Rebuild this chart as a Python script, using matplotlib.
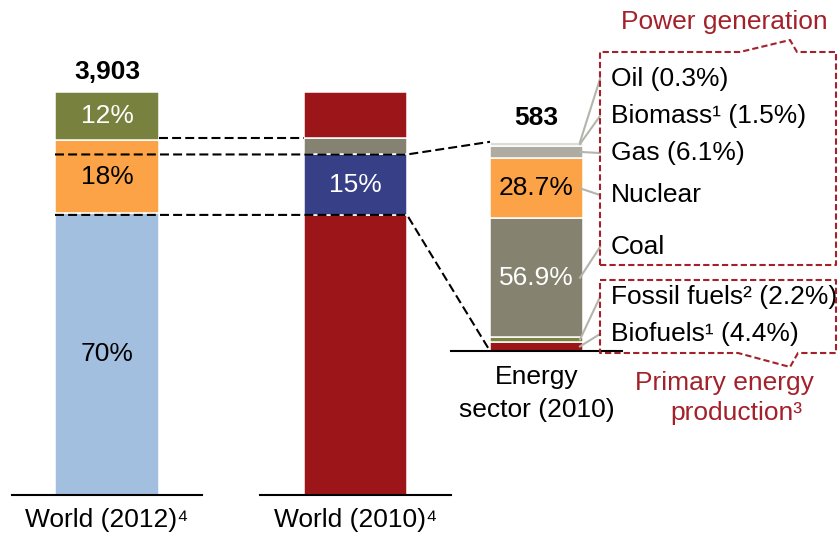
import matplotlib.pyplot as plt

plt.rcParams['font.family'] = ['Liberation Sans', 'DejaVu Sans']

# stacked shares, bottom to top (%)
world2012_vals = [70, 18, 12]
world2012_labels = ['70%', '18%', '12%']
world2012_cols = ['#a3bfe0', '#fba346', '#79813f']
world2012_txt = ['black', 'black', 'white']

world2010_vals = [69.5, 15, 4, 11.5]
world2010_cols = ['#9c1519', '#373f86', '#868272', '#9c1519']

energy_vals = [4.4, 2.2, 56.9, 28.7, 6.1, 1.5, 0.3]
energy_cols = ['#9c1519', '#7b8340', '#858270', '#fba346', '#aeaca2', '#dcdbd4', '#c8c6bc']
energy_inbar = {2: ('56.9%', 'white'), 3: ('28.7%', 'black')}
energy_names = ['Biofuels\u00b9 (4.4%)', 'Fossil fuels\u00b2 (2.2%)', 'Coal', 'Nuclear',
                'Gas (6.1%)', 'Biomass\u00b9 (1.5%)', 'Oil (0.3%)']
name_y = [334, 297, 247, 195, 153, 116, 79]

total_2012 = '3,903'
total_energy = '583'

fig = plt.figure(figsize=(8.38, 5.38), dpi=100)
ax = fig.add_axes([0, 0, 1, 1])
ax.set_xlim(0, 838)
ax.set_ylim(538, 0)
ax.axis('off')

FS = 19
base_w = 495
sc_w = 4.03
base_e = 351
sc_e = 2.09


def stack(xc, width, vals, cols, base, sc):
    cum = 0
    tops = []
    for v, c in zip(vals, cols):
        h = v * sc
        ax.bar(xc, h, width=width, bottom=base - cum * sc - h, color=c,
               edgecolor='white', linewidth=1.1, zorder=2)
        tops.append((base - cum * sc, base - (cum + v) * sc))
        cum += v
    return tops


t1 = stack(107, 104, world2012_vals, world2012_cols, base_w, sc_w)
t2 = stack(355.5, 103, world2010_vals, world2010_cols, base_w, sc_w)
t3 = stack(536.5, 93, energy_vals, energy_cols, base_e, sc_e)

for (lo, hi), lab, c in zip(t1, world2012_labels, world2012_txt):
    ax.text(107, (lo + hi) / 2, lab, ha='center', va='center', fontsize=FS, color=c, zorder=5)
ax.text(355.5, (t2[1][0] + t2[1][1]) / 2, '15%', ha='center', va='center',
        fontsize=FS, color='white', zorder=5)
for i, (lab, c) in energy_inbar.items():
    lo, hi = t3[i]
    ax.text(536.5, (lo + hi) / 2, lab, ha='center', va='center', fontsize=FS, color=c, zorder=5)

ax.text(107, 72, total_2012, ha='center', va='center', fontsize=FS, fontweight='bold')
ax.text(536.5, 118, total_energy, ha='center', va='center', fontsize=FS, fontweight='bold')

# baselines
ax.plot([12, 202], [base_w, base_w], color='black', lw=1.5, zorder=3)
ax.plot([260, 451], [base_w, base_w], color='black', lw=1.5, zorder=3)
ax.plot([451, 622], [base_e, base_e], color='black', lw=1.5, zorder=3)

# dashed connectors
yA = t2[2][1]
yB = t2[1][1]
yC = t2[1][0]
dk = dict(color='black', lw=1.5, dashes=(4.3, 2), zorder=4)
ax.plot([159, 304], [yA, yA], **dk)
ax.plot([55, 407, 490], [yB, yB, t3[-1][1]], **dk)
ax.plot([55, 407, 490], [yC, yC, base_e], **dk)

# leader lines and labels
for (lo, hi), name, ly in zip(t3, energy_names, name_y):
    ax.plot([580, 600], [(lo + hi) / 2, ly], color='#b5b4ab', lw=1.5, zorder=3)
    ax.text(611, ly, name, ha='left', va='center', fontsize=FS)

# red dashed boxes
rk = dict(color='#a3212a', lw=1.5, dashes=(3, 1.5), zorder=3)
ax.plot([600, 600, 740, 790, 797, 836, 836, 600], [265, 52, 52, 40, 52, 52, 265, 265], **rk)
ax.plot([600, 836, 836, 798, 790, 738, 600, 600], [280, 280, 353, 353, 367, 353, 353, 280], **rk)

red = '#a3212a'
ax.text(724, 22, 'Power generation', ha='center', va='center', fontsize=FS, color=red)
ax.text(724, 383, 'Primary energy', ha='center', va='center', fontsize=FS, color=red)
ax.text(736, 413, 'production\u00b3', ha='center', va='center', fontsize=FS, color=red)

ax.text(536.5, 377, 'Energy', ha='center', va='center', fontsize=FS)
ax.text(536.5, 410, 'sector (2010)', ha='center', va='center', fontsize=FS)
ax.text(107, 520, 'World (2012)\u2074', ha='center', va='center', fontsize=FS)
ax.text(356, 520, 'World (2010)\u2074', ha='center', va='center', fontsize=FS)

fig.savefig('out.png', dpi=100)
